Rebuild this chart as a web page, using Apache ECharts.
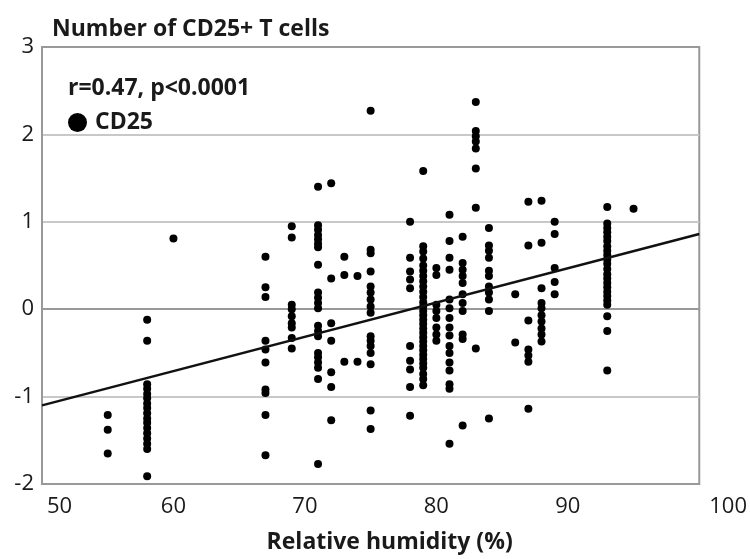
<!DOCTYPE html>
<html>
<head>
<meta charset="utf-8">
<script src="https://cdn.jsdelivr.net/npm/echarts@6/dist/echarts.min.js"></script>
<style>
  html, body { margin: 0; padding: 0; background: #fff; }
  #chart { width: 750px; height: 559px; }
</style>
</head>
<body>
<div id="chart"></div>
<script>
// humidity levels (%) and the CD25 values
const humidity = [55, 58, 60, 67, 69, 71, 72, 73, 74, 75, 78, 79, 80, 81, 82, 83, 84, 86, 87, 88, 89, 93, 95]
const cd25Values = [
  [-1.21, -1.38, -1.65],
  [-0.12, -0.36, -0.86, -0.91, -0.97, -1.02, -1.08, -1.13, -1.19, -1.25, -1.3, -1.36, -1.42, -1.48, -1.54, -1.6, -1.91],
  [0.81],
  [0.6, 0.25, 0.14, -0.36, -0.46, -0.61, -0.92, -0.96, -1.21, -1.67],
  [0.95, 0.82, 0.05, 0.0, -0.08, -0.16, -0.21, -0.33, -0.45],
  [1.4, 0.96, 0.91, 0.85, 0.8, 0.75, 0.71, 0.51, 0.19, 0.13, 0.07, 0.01, -0.19, -0.25, -0.31, -0.5, -0.55, -0.61, -0.67, -0.8, -1.77],
  [1.44, 0.35, -0.16, -0.36, -0.72, -0.89, -1.27],
  [0.6, 0.39, -0.6],
  [0.38, -0.6],
  [2.27, 0.68, 0.64, 0.43, 0.26, 0.19, 0.11, 0.03, -0.04, -0.31, -0.36, -0.42, -0.5, -0.63, -1.16, -1.37],
  [1.0, 0.59, 0.43, 0.34, 0.24, -0.42, -0.59, -0.69, -0.89, -1.22],
  [1.58, 0.72, 0.66, 0.58, 0.5, 0.44, 0.38, 0.32, 0.26, 0.2, 0.14, 0.08, 0.03, -0.02, -0.07, -0.12, -0.17, -0.22, -0.27, -0.32, -0.37, -0.42, -0.47, -0.52, -0.57, -0.62, -0.67, -0.74, -0.8, -0.87],
  [0.47, 0.39, 0.05, -0.02, -0.1, -0.21, -0.29, -0.36],
  [1.08, 0.78, 0.59, 0.45, 0.11, 0.01, -0.1, -0.21, -0.3, -0.42, -0.5, -0.61, -0.7, -0.86, -0.91, -1.54],
  [0.83, 0.53, 0.45, 0.38, 0.3, 0.17, 0.07, -0.02, -0.29, -0.34, -1.33],
  [2.37, 2.04, 1.98, 1.92, 1.84, 1.61, 1.16, -0.45],
  [0.93, 0.73, 0.67, 0.59, 0.44, 0.38, 0.26, 0.19, 0.11, -0.02, -1.25],
  [0.17, -0.38],
  [1.23, 0.73, -0.13, -0.46, -0.53, -0.6, -1.14],
  [1.24, 0.76, 0.24, 0.07, 0.01, -0.07, -0.14, -0.22, -0.29, -0.37],
  [1.0, 0.86, 0.47, 0.31, 0.17],
  [1.17, 0.98, 0.93, 0.88, 0.83, 0.78, 0.72, 0.67, 0.62, 0.57, 0.52, 0.46, 0.4, 0.35, 0.3, 0.25, 0.2, 0.15, 0.1, 0.05, -0.08, -0.25, -0.7],
  [1.15]
]
// regression line end points
const fitLine = [[50, -1.1], [100, 0.86]]

const points = []
humidity.forEach((h, i) => {
  cd25Values[i].forEach(v => {
    points.push([h, v])
  })
})

const FONT = '"Open Sans", "Noto Sans", sans-serif'
const labelFont = { fontFamily: FONT, fontSize: 22, color: '#1a1a1a' }
const chart = echarts.init(document.getElementById('chart'))

chart.setOption({
  animation: false,
  backgroundColor: '#fff',
  title: [
    {
      text: 'Number of CD25+ T cells',
      left: 52,
      top: 18,
      padding: 0,
      textStyle: { fontFamily: FONT, fontSize: 23, fontWeight: 'bold', color: '#1a1a1a' }
    },
    {
      text: 'r=0.47, p<0.0001',
      left: 68,
      top: 77,
      padding: 0,
      textStyle: { fontFamily: FONT, fontSize: 23, fontWeight: 'bold', color: '#1a1a1a' }
    }
  ],
  legend: {
    left: 68,
    top: 111,
    padding: 0,
    icon: 'circle',
    itemWidth: 19,
    itemHeight: 19,
    data: ['CD25'],
    textStyle: { fontFamily: FONT, fontSize: 23, fontWeight: 'bold', color: '#1a1a1a', padding: [0, 0, 0, 3] }
  },
  grid: {
    left: 42,
    right: 50,
    top: 47,
    bottom: 74,
    show: true,
    borderColor: '#999',
    borderWidth: 2
  },
  xAxis: {
    type: 'value',
    min: 50,
    max: 100,
    interval: 10,
    name: 'Relative humidity (%)',
    nameLocation: 'middle',
    nameGap: 47,
    nameTextStyle: { fontFamily: FONT, fontSize: 23, fontWeight: 'bold', color: '#1a1a1a', padding: [0, 0, 0, 38] },
    axisLine: { show: true, lineStyle: { color: '#999', width: 2 } },
    axisTick: { show: false },
    splitLine: { show: false },
    axisLabel: {
      margin: 12,
      ...labelFont,
      alignMinLabel: 'left',
      alignMaxLabel: 'left',
      formatter: v => (v === 50 ? '{lo|50}' : v === 100 ? '{hi|100}' : String(v)),
      rich: {
        lo: { ...labelFont, padding: [0, 0, 0, 5] },
        hi: { ...labelFont, padding: [0, 0, 0, 10] }
      }
    }
  },
  yAxis: {
    type: 'value',
    min: -2,
    max: 3,
    interval: 1,
    axisLine: { show: true, lineStyle: { color: '#999', width: 2 } },
    axisTick: { show: false },
    axisLabel: { margin: 8, ...labelFont },
    splitLine: {
      show: true,
      lineStyle: {
        width: 2,
        color: ['#999', '#c8c8c8', '#7a7a7a', '#c8c8c8', '#c8c8c8', '#999']
      }
    }
  },
  series: [
    {
      name: 'CD25',
      type: 'scatter',
      data: points,
      symbol: 'circle',
      symbolSize: 8,
      itemStyle: { color: '#000', opacity: 1 },
      z: 3
    },
    {
      name: 'fit',
      type: 'line',
      data: fitLine,
      showSymbol: false,
      symbol: 'none',
      lineStyle: { color: '#111', width: 2.5 },
      z: 4
    }
  ]
})
</script>
</body>
</html>
